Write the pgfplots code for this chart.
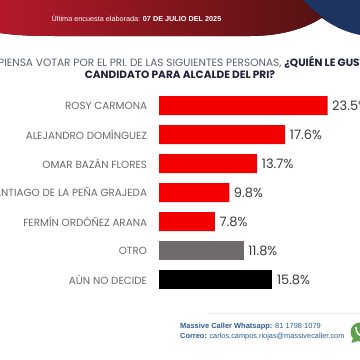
\documentclass[border=0pt]{standalone}
\usepackage{pgfplots}
\pgfplotsset{compat=1.18}
\usepackage{fontspec}
\setmainfont{Poppins}
\newfontfamily\hv{Liberation Sans}
\definecolor{barred}{HTML}{F50000}
\definecolor{bargrey}{HTML}{6F6B6B}
\definecolor{lab}{HTML}{6A6A6A}
\definecolor{val}{HTML}{3A3A3A}
\definecolor{navy}{HTML}{1D3461}
\definecolor{hl}{HTML}{B5192A}
\definecolor{hr}{HTML}{551212}
\definecolor{ttl}{HTML}{5A5F6E}
\definecolor{ttb}{HTML}{1F2238}
\definecolor{ft}{HTML}{2F5B92}
\definecolor{wa}{HTML}{5FA04E}
\begin{document}
\begin{tikzpicture}[x=1bp,y=-1bp,inner sep=0pt]
\clip (0,0) rectangle (360,360);
\fill[white] (0,0) rectangle (360,360);
\fill[navy] (303,0) .. controls (315,15) and (335,30) .. (360,35) -- (360,0) -- cycle;
\fill[left color=hl,right color=hr] (0,0) -- (0,33) .. controls (20,36) and (40,36) .. (60,36) -- (250,36) .. controls (280,36) and (305,29) .. (323,17) .. controls (314,12) and (308,6) .. (303,0) -- cycle;
\node[anchor=west,text=white,font=\hv\fontsize{7.3}{8}\selectfont] at (51.5,18) {Última encuesta elaborada: \textbf{07 DE JULIO DEL 2025}};
\node[anchor=west,text=ttl,font=\fontsize{10.6}{12}\selectfont] at (-2,62) {PIENSA VOTAR POR EL PRI. DE LAS SIGUIENTES PERSONAS, \textcolor{ttb}{\textbf{¿QUIÉN LE GUSTARÍA}}};
\node[anchor=center,text=ttb,font=\bfseries\fontsize{10.6}{12}\selectfont] at (180,75) {CANDIDATO PARA ALCALDE DEL PRI?};
\draw[gray!15,line width=0.8bp] (208,313.5) -- (360,313.5);
\node[anchor=west,text=ft,font=\hv\fontsize{7.5}{8}\selectfont] at (180,327) {\textbf{Massive Caller Whatsapp:} 81 1798 1079};
\node[anchor=west,text=ft,font=\hv\fontsize{7.4}{8}\selectfont] at (180,336.5) {\textbf{Correo:} carlos.campos.riojas@massivecaller.com};
\fill[wa] (360,332) circle (9.5);
\fill[wa] (353,338) -- (351.5,343) -- (358,341) -- cycle;
\draw[white,line width=1.6bp] (356,327) .. controls (356,332) and (358,335) .. (362,336);
\begin{axis}[at={(159bp,-294bp)},anchor=south west,width=201bp,height=203bp,scale only axis,
 xbar,bar width=19bp,bar shift=0pt,xmin=0,xmax=28.03,ymin=-0.5,ymax=6.5,y dir=reverse,
 axis x line=none,axis y line*=left,y axis line style={draw=none},
 clip=false,tick style={draw=none},
 ytick={0,1,2,3,4,5,6},
 yticklabels={ROSY CARMONA,ALEJANDRO DOMÍNGUEZ\ ,OMAR BAZÁN FLORES,SANTIAGO DE LA PEÑA GRAJEDA,FERMÍN ORDÓÑEZ ARANA,OTRO,AÚN NO DECIDE},
 yticklabel style={text=lab,font=\fontsize{10.4}{11}\selectfont,inner xsep=7.5bp,anchor=east},
 nodes near coords={\pgfmathprintnumber[fixed,fixed zerofill,precision=1,assume math mode=true]{\pgfplotspointmeta}\%},
 nodes near coords align={horizontal},
 every node near coord/.append style={text=val,font=\fontsize{13}{14}\selectfont,inner xsep=4.5bp},
 point meta=x]
\addplot[fill=barred,draw=none] coordinates {(23.5,0) (17.6,1) (13.7,2) (9.8,3) (7.8,4)};
\addplot[fill=bargrey,draw=none] coordinates {(11.8,5)};
\addplot[fill=black,draw=none] coordinates {(15.8,6)};
\end{axis}
\end{tikzpicture}
\end{document}
